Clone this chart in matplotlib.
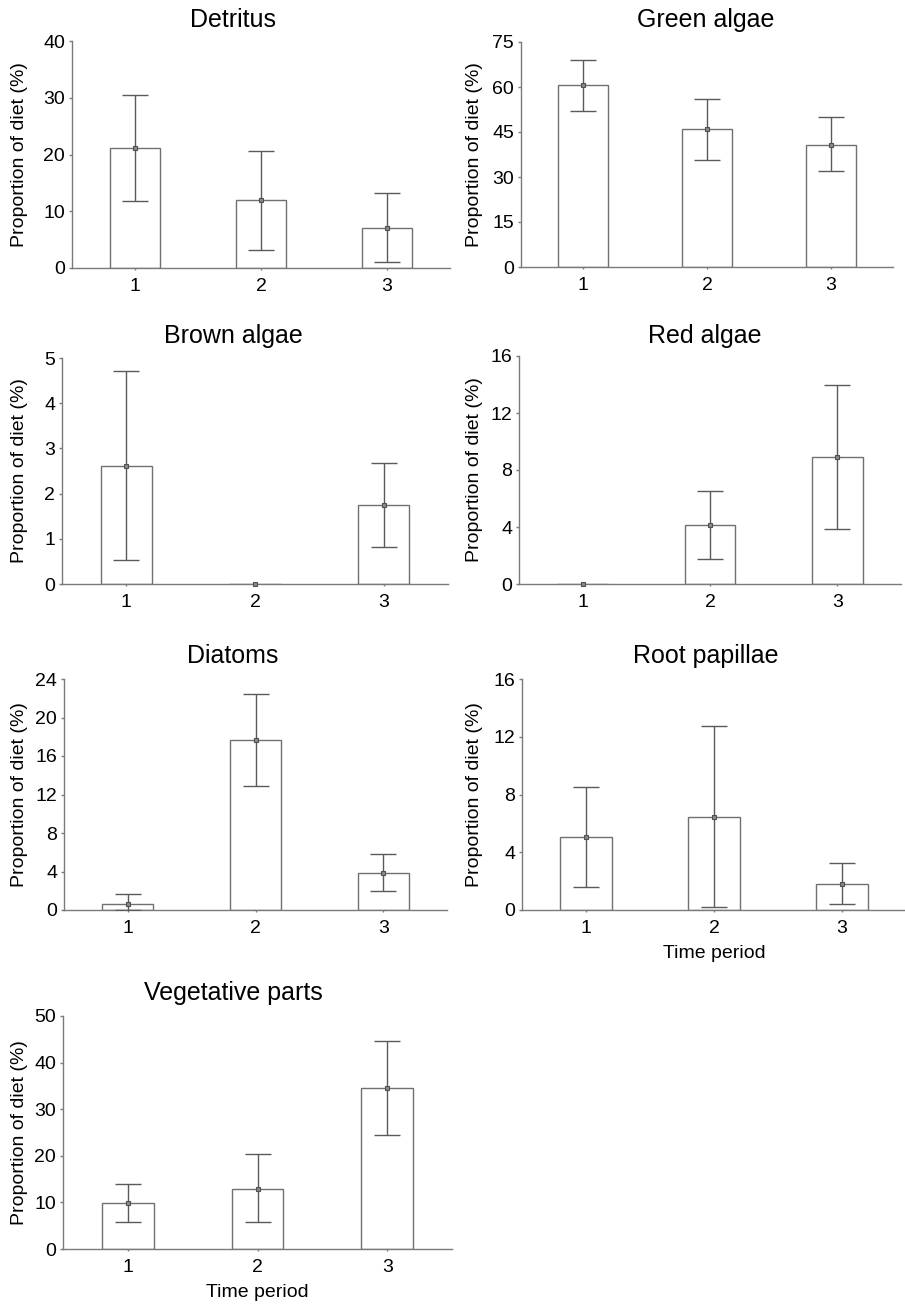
import matplotlib
matplotlib.use("Agg")
import matplotlib.pyplot as plt
import matplotlib.transforms as mtransforms
import numpy as np

plt.rcParams['font.family'] = ['Liberation Sans', 'DejaVu Sans']

# data (mean, lower and upper error limits, %)
periods = [1, 2, 3]

detritus_mean = [21.1, 11.9, 7.1]
detritus_lo = [11.8, 3.2, 1.1]
detritus_hi = [30.5, 20.7, 13.2]

green_mean = [60.6, 45.9, 40.8]
green_lo = [51.9, 35.7, 32.1]
green_hi = [69.1, 56.0, 49.9]

brown_mean = [2.62, 0.0, 1.75]
brown_lo = [0.54, 0.0, 0.81]
brown_hi = [4.72, 0.0, 2.68]

red_mean = [0.0, 4.15, 8.93]
red_lo = [0.0, 1.77, 3.85]
red_hi = [0.0, 6.5, 13.97]

diatom_mean = [0.6, 17.7, 3.85]
diatom_lo = [0.0, 12.9, 1.98]
diatom_hi = [1.66, 22.4, 5.83]

root_mean = [5.04, 6.45, 1.78]
root_lo = [1.57, 0.23, 0.39]
root_hi = [8.5, 12.74, 3.24]

veg_mean = [9.87, 12.95, 34.6]
veg_lo = [5.8, 5.8, 24.5]
veg_hi = [13.95, 20.3, 44.6]

titles = ["Detritus", "Green algae", "Brown algae", "Red algae",
          "Diatoms", "Root papillae", "Vegetative parts"]
means = [detritus_mean, green_mean, brown_mean, red_mean,
         diatom_mean, root_mean, veg_mean]
lows = [detritus_lo, green_lo, brown_lo, red_lo, diatom_lo, root_lo, veg_lo]
highs = [detritus_hi, green_hi, brown_hi, red_hi, diatom_hi, root_hi, veg_hi]
ymax = [40, 75, 5, 16, 24, 16, 50]
ystep = [10, 15, 1, 4, 4, 4, 10]
has_xlabel = [False, False, False, False, False, True, True]

W, H = 905, 1308
# axes boxes in pixels: left, right, top, bottom
boxes = [(72, 450, 41, 268), (521, 893, 42, 267),
         (62, 448, 358, 584), (519, 901, 356, 584),
         (64, 447, 679, 910), (522, 906, 679, 910),
         (63, 452, 1016, 1249)]
title_x = [233, 706, 233, 705, 233, 706, 233]
title_base = [27, 27, 343, 343, 663, 663, 1000]
ylabel_x = [28, 483, 28, 483, 28, 483, 28]

bar_c = '#707070'
err_c = '#5a5a5a'
axis_c = '#7a7a7a'
text_c = 'black'

fig = plt.figure(figsize=(W / 100, H / 100), dpi=100)

for i in range(7):
    l, r, t, b = boxes[i]
    ax = fig.add_axes([l / W, 1 - b / H, (r - l) / W, (b - t) / H])
    m = np.array(means[i])
    lo = np.array(lows[i])
    hi = np.array(highs[i])

    ax.bar(periods, m, width=0.4, color='white', edgecolor=bar_c,
           linewidth=1.0, zorder=2)
    ok = m > 0
    x = np.array(periods)
    ax.errorbar(x[ok], m[ok], yerr=[m[ok] - lo[ok], hi[ok] - m[ok]],
                fmt='none', ecolor=err_c, elinewidth=1.0, capsize=9.5,
                capthick=1.0, zorder=3)
    ax.plot(x, m, 's', ms=3.2, mfc='#8a8a8a', mec='#505050', mew=0.8,
            ls='none', zorder=4, clip_on=False)

    ax.set_xlim(0.5, 3.5)
    ax.set_ylim(0, ymax[i])
    ax.set_yticks(np.arange(0, ymax[i] + 0.01, ystep[i]))
    ax.set_xticks(periods)
    for s in ['top', 'right']:
        ax.spines[s].set_visible(False)
    for s in ['left', 'bottom']:
        ax.spines[s].set_color(axis_c)
        ax.spines[s].set_linewidth(1.0)
    ax.tick_params(axis='y', length=2, width=1, color=axis_c, pad=3,
                   labelsize=14, labelcolor=text_c)
    ax.tick_params(axis='x', length=1.5, width=1, color=axis_c, pad=5.5,
                   labelsize=14, labelcolor=text_c)

    ax.set_ylabel("Proportion of diet (%)", fontsize=14, color=text_c)
    tr = mtransforms.blended_transform_factory(fig.transFigure, ax.transAxes)
    ax.yaxis.set_label_coords(ylabel_x[i] / W, 0.5, transform=tr)
    if has_xlabel[i]:
        ax.set_xlabel("Time period", fontsize=14, color=text_c, labelpad=6)

    fig.text(title_x[i] / W, 1 - title_base[i] / H, titles[i], fontsize=18,
             ha='center', va='baseline', color=text_c)

fig.savefig("out.png", dpi=100)
